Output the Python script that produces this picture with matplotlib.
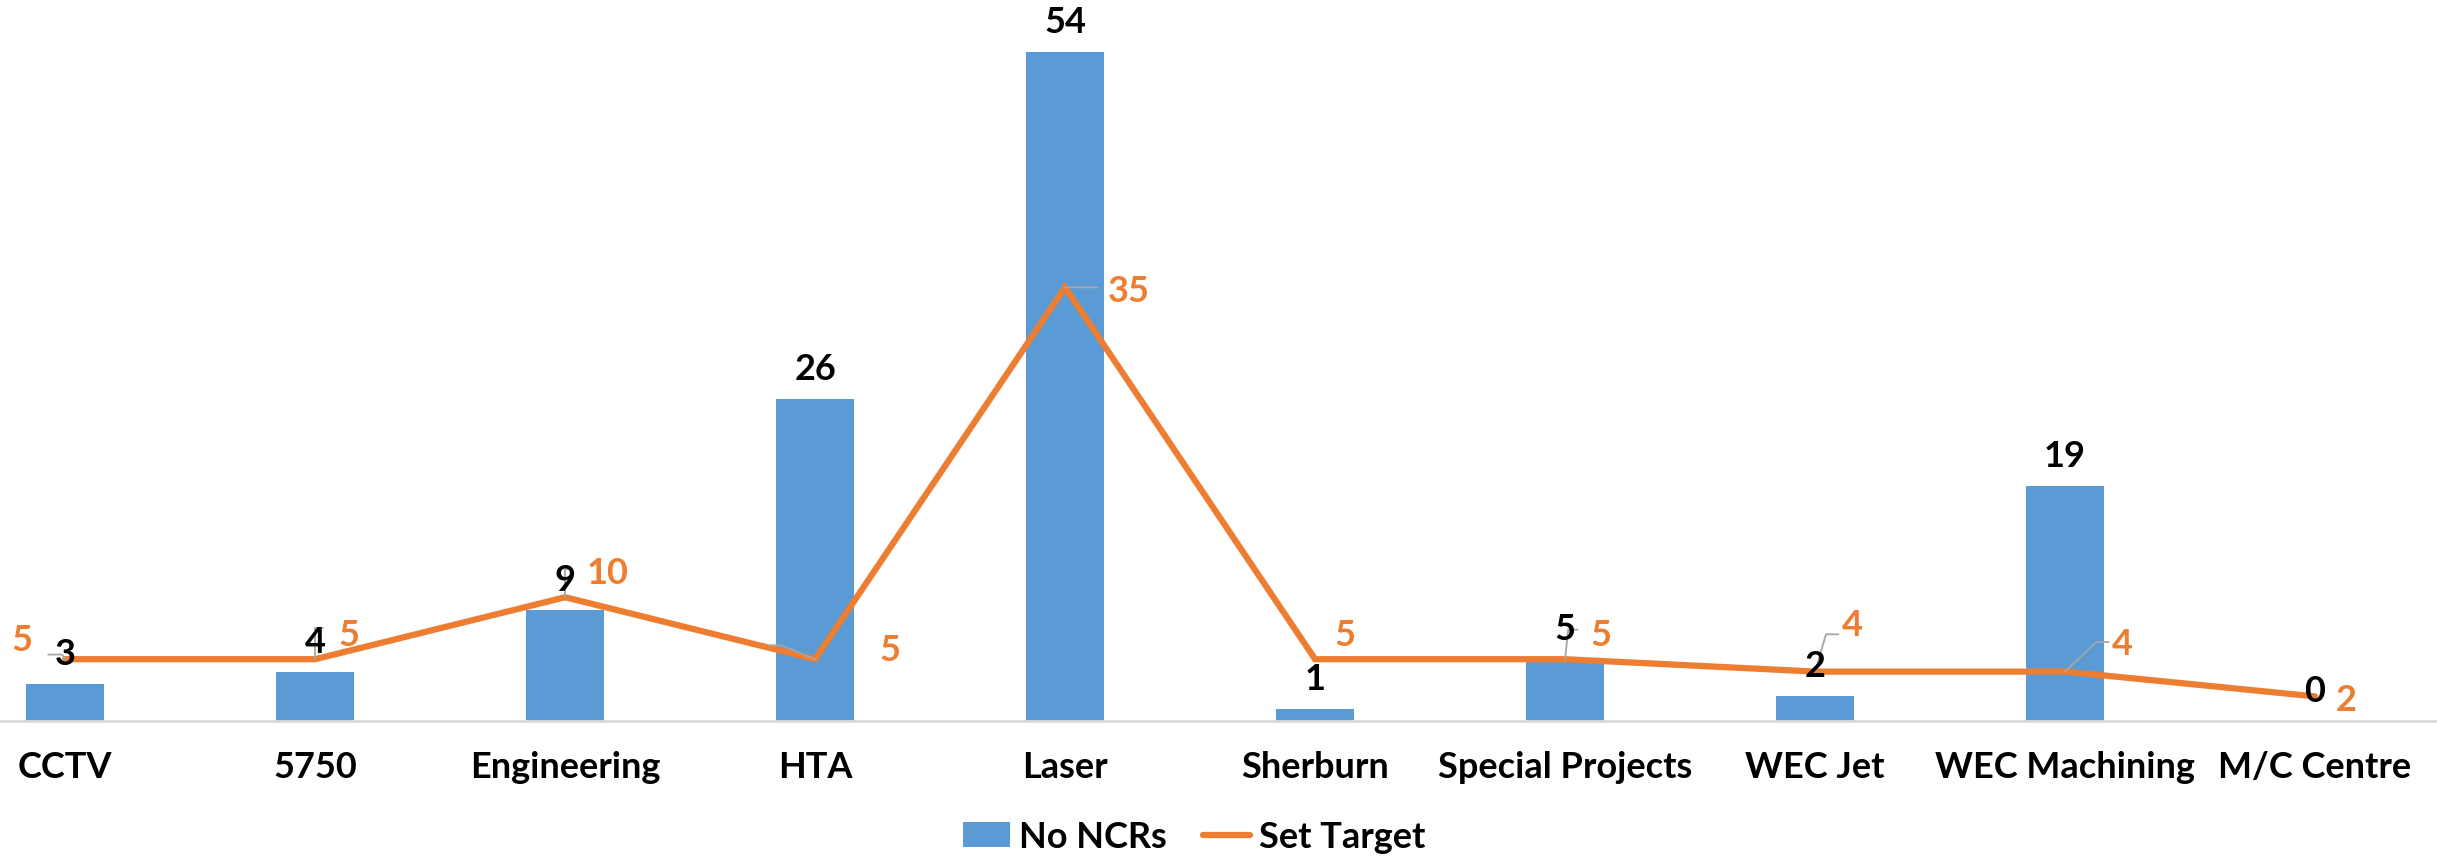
import math
import matplotlib
matplotlib.use("Agg")
import matplotlib.pyplot as plt
from matplotlib import font_manager

categories = ["CCTV", "5750", "Engineering", "HTA", "Laser", "Sherburn",
              "Special Projects", "WEC Jet", "WEC Machining", "M/C Centre"]
ncrs = [3, 4, 9, 26, 54, 1, 5, 2, 19, 0]
target = [5, 5, 10, 5, 35, 5, 5, 4, 4, 2]

# label layout (offsets relative to the line point, reference display px)
S = 1.119
lab_off = [(-28, 13), (22, 16), (27, 16), (48, 6), (41, -2), (19, 16),
           (23, 16), (24, 30), (37, 18), (20, -2)]
# leader: (knee x, knee y, end x) in display px, None for no leader
leaders = [(-2, 3, -11), (0, 20, 5), (0, 18, 3), (-22, 9, -29), (0, 0, 21), None,
           (2, 19, 8), (7, 24, 15), (20, 19, 28), None]

avail = {f.name for f in font_manager.fontManager.ttflist}
fam = [f for f in ["Lato", "DejaVu Sans"] if f in avail]
plt.rcParams['font.family'] = fam
plt.rcParams['font.weight'] = 'bold'

BLUE = "#5B9BD5"
ORANGE = "#ED7D31"
GRAY = "#A6A6A6"
FS = 26

fig = plt.figure(figsize=(24.37, 8.62), dpi=100)
ax = fig.add_axes([-0.02455, 0.1622, 1.0258, 0.834])
x = list(range(len(categories)))
bars = ax.bar(x, ncrs, width=0.31, color=BLUE, label="No NCRs", zorder=2)
line, = ax.plot(x, target, color=ORANGE, lw=4.5, label="Set Target", zorder=3,
                solid_joinstyle='miter', solid_capstyle='round')
ax.set_xlim(-0.5, len(categories) - 0.5)
ax.set_ylim(0, 58)
for s in ["top", "left", "right"]:
    ax.spines[s].set_visible(False)
ax.spines["bottom"].set_color("#D9D9D9")
ax.spines["bottom"].set_linewidth(2)
ax.set_yticks([])
ax.set_xticks(x)
ax.set_xticklabels(categories, fontsize=FS, fontweight='bold')
ax.tick_params(axis='x', length=0, pad=21)

for i, v in enumerate(ncrs):
    ax.annotate(str(v), (i, v), xytext=(0, 22), textcoords='offset points',
                ha='center', va='center', fontsize=FS, fontweight='bold',
                color='black', zorder=5)

for i, v in enumerate(target):
    dx, dy = lab_off[i]
    ax.annotate(str(v), (i, v), xytext=(dx * S, dy * S), textcoords='offset points',
                ha='center', va='center', fontsize=FS, fontweight='bold',
                color=ORANGE, zorder=6)
    ld = leaders[i]
    if ld is None:
        continue
    kx, ky, ex = ld
    if ky == 0:
        cs = "arc3"
    else:
        ang = math.degrees(math.atan2(ky, kx))
        cs = f"angle,angleA=0,angleB={ang:.1f},rad=0"
    ax.annotate("", xy=(i, v), xytext=(ex * S, ky * S), textcoords='offset points',
                arrowprops=dict(arrowstyle='-', color=GRAY, lw=1.3,
                                shrinkA=0, shrinkB=0, connectionstyle=cs),
                zorder=4)

fig.legend([bars, line], ["No NCRs", "Set Target"], loc='center',
           bbox_to_anchor=(0.49, 0.028), ncol=2, frameon=False,
           prop={'size': FS, 'weight': 'bold'}, handlelength=1.3,
           handletextpad=0.25, columnspacing=1.0)
fig.savefig("out.png", dpi=100)
